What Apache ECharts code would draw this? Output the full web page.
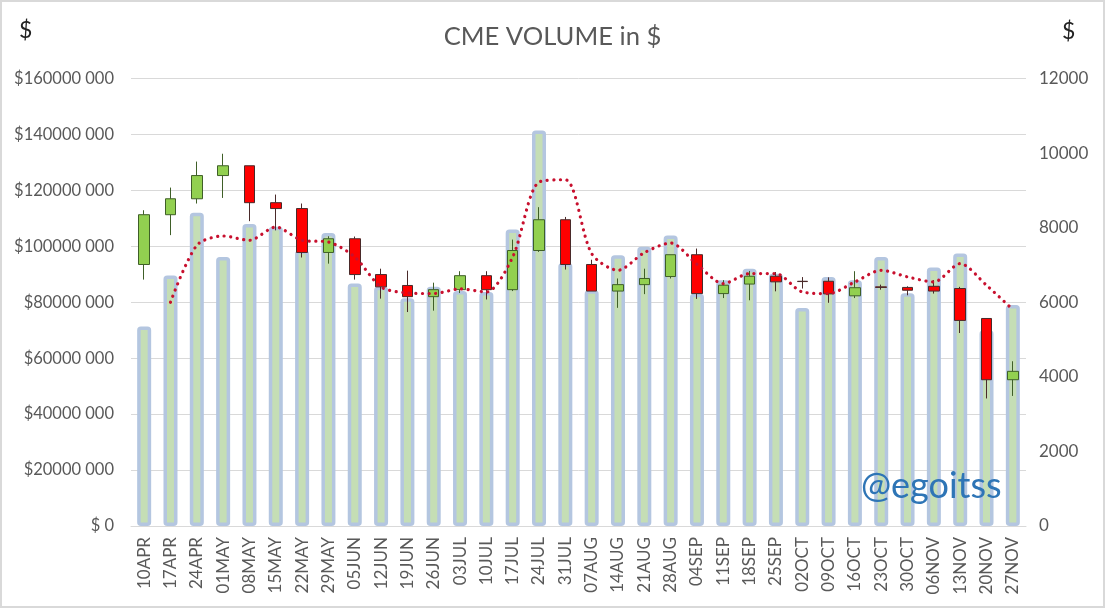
<!DOCTYPE html>
<html>
<head>
<meta charset="utf-8">
<title>CME VOLUME in $</title>
<script src="https://cdn.jsdelivr.net/npm/echarts@6/dist/echarts.min.js"></script>
<style>
html, body { margin: 0; padding: 0; background: #fff; }
#chart { width: 1105px; height: 608px; }
</style>
</head>
<body>
<div id="chart"></div>
<script>
var weeks = ['10APR','17APR','24APR','01MAY','08MAY','15MAY','22MAY','29MAY','05JUN','12JUN','19JUN','26JUN','03JUL','10JUL','17JUL','24JUL','31JUL','07AUG','14AUG','21AUG','28AUG','04SEP','11SEP','18SEP','25SEP','02OCT','09OCT','16OCT','23OCT','30OCT','06NOV','13NOV','20NOV','27NOV'];

// volume, in millions of $
var volume = [71.3, 89.6, 112, 96.2, 108, 107, 98.5, 104.8, 86.7, 85.5, 81.4, 85.5, 84, 83.7, 106, 141.4, 94, 84.3, 96.8, 99.8, 103.9, 83, 87.9, 92, 90.2, 77.9, 89, 87.9, 96.2, 83.2, 92.4, 97.4, 70, 79];

// candles in millions of $: open, close, low, high
var candles = [
	[93.5, 111.3, 88.1, 112.9],
	[111.3, 117, 104, 121],
	[117, 125.3, 115.3, 130.3],
	[125.3, 128.8, 117.3, 133.1],
	[128.8, 115.6, 109, 128.8],
	[115.6, 113.5, 105.7, 118.5],
	[113.5, 97.8, 96, 115.3],
	[97.8, 102.7, 93.8, 103.6],
	[102.7, 89.9, 88.1, 103.5],
	[89.9, 85.5, 81.3, 92],
	[86, 82, 76.5, 91.3],
	[82, 84.5, 77, 87],
	[84.5, 89.5, 83.3, 91.1],
	[89.5, 84.5, 81, 91.1],
	[84.5, 98.5, 84, 102.4],
	[98.5, 109.5, 98, 114],
	[109.5, 93.5, 91.7, 110.5],
	[93.5, 84, 84, 95.2],
	[84, 86.3, 78, 88.5],
	[86.3, 88.5, 82.9, 92],
	[89.2, 97, 88.5, 97],
	[97, 83.1, 81.2, 99.2],
	[83.1, 86.1, 81.5, 87.9],
	[86.5, 89.3, 80.7, 91.2],
	[89.3, 87.3, 83.9, 90.8],
	[87.5, 87.4, 84.9, 89],
	[87.5, 83, 79.8, 88.9],
	[82.3, 85.2, 81.5, 91.1],
	[85.5, 85.3, 84.5, 86.3],
	[85.3, 84.3, 82.5, 85.7],
	[85.7, 84, 83.1, 87.9],
	[84.9, 73.5, 69, 85.5],
	[74.2, 52.3, 45.6, 74.2],
	[52.3, 55.3, 46.5, 58.9]
];

// dotted line, right axis (no value for the first week)
var price = [null, 6000, 7527, 7777, 7661, 8018, 7661, 7616, 7214, 6410, 6250, 6233, 6357, 6276, 7214, 9223, 9286, 7304, 6857, 7330, 7589, 7018, 6500, 6768, 6768, 6277, 6232, 6545, 6857, 6679, 6545, 7036, 6455, 5804];

var fontName = 'Lato';
var labelColor = '#595959';
var gridColor = '#d9d9d9';

var option = {
	animation : false,
	backgroundColor : '#fff',
	textStyle : {
		fontFamily : fontName
	},
	title : {
		text : 'CME VOLUME in $',
		left : 'center',
		top : 19,
		textStyle : {
			fontFamily : fontName,
			fontSize : 25.6,
			fontWeight : 'normal',
			color : labelColor
		}
	},
	grid : {
		left : 131,
		right : 79,
		top : 78.5,
		bottom : 82
	},
	xAxis : [ {
		type : 'category',
		data : weeks,
		axisLine : {
			lineStyle : { color : gridColor }
		},
		axisTick : { show : false },
		axisLabel : {
			rotate : 90,
			interval : 0,
			margin : 11,
			fontSize : 17,
			color : labelColor
		}
	} ],
	yAxis : [ {
		type : 'value',
		min : 0,
		max : 160,
		interval : 20,
		axisLine : { show : false },
		axisTick : { show : false },
		splitLine : {
			lineStyle : { color : gridColor }
		},
		axisLabel : {
			margin : 17,
			fontSize : 16.5,
			color : labelColor,
			formatter : function(v) {
				return v === 0 ? '$ 0' : '$' + v + '000 000';
			}
		}
	}, {
		type : 'value',
		position : 'right',
		min : 0,
		max : 12000,
		interval : 2000,
		axisLine : { show : false },
		axisTick : { show : false },
		splitLine : { show : false },
		axisLabel : {
			margin : 13,
			fontSize : 17,
			color : labelColor,
			formatter : function(v) {
				return String(v);
			}
		}
	} ],
	series : [ {
		name : 'Volume',
		type : 'bar',
		data : volume,
		barWidth : 14,
		itemStyle : {
			color : '#c5deb5',
			borderColor : '#b4c6e0',
			borderWidth : 3.5,
			borderRadius : 2
		}
	}, {
		name : 'Range',
		type : 'candlestick',
		data : candles,
		barWidth : 11,
		itemStyle : {
			color : '#92d050',
			color0 : '#ff0000',
			borderColor : '#3f5f28',
			borderColor0 : '#4a2a2a',
			borderColorDoji : '#3a3a3a',
			borderWidth : 1
		}
	}, {
		name : 'Price',
		type : 'line',
		yAxisIndex : 1,
		data : price,
		smooth : 0.28,
		showSymbol : false,
		z : 5,
		lineStyle : {
			color : '#c8102e',
			width : 3.2,
			type : [ 0.1, 6.5 ],
			cap : 'round'
		}
	} ],
	graphic : [ {
		type : 'rect',
		silent : true,
		shape : { x : 1, y : 1, width : 1103, height : 606 },
		style : { fill : 'none', stroke : gridColor, lineWidth : 2 }
	}, {
		type : 'text',
		left : 19,
		top : 19,
		style : { text : '$', fontFamily : fontName, fontSize : 23, fill : '#222' }
	}, {
		type : 'text',
		left : 1062,
		top : 20,
		style : { text : '$', fontFamily : fontName, fontSize : 23, fill : '#222' }
	}, {
		type : 'text',
		left : 861,
		top : 468,
		z : 10,
		style : { text : '@egoitss', fontFamily : fontName, fontSize : 36, fill : '#2e75b6' }
	} ]
};

var chart = echarts.init(document.getElementById('chart'));
chart.setOption(option);
</script>
</body>
</html>
